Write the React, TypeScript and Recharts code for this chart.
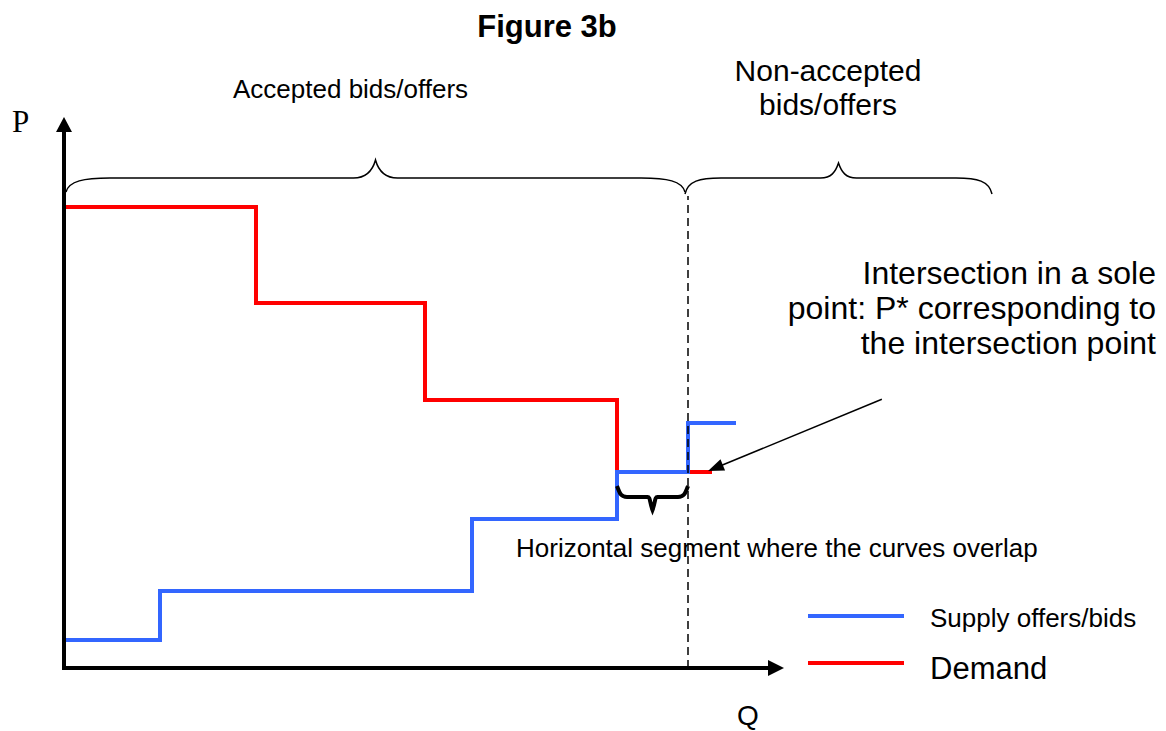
import { LineChart, Line, XAxis, YAxis, ReferenceLine, Legend } from "recharts";

// supply offers/bids (step curve)
const supplyQ = [0, 96, 408, 553, 624, 672];
const supplyP = [28, 77, 149, 196, 245, 245];
// demand bids (step curve)
const demandQ = [0, 192, 361, 553, 648];
const demandP = [461, 365, 268, 196, 196];

const qDomain = [0, 720];
const pDomain = [0, 551];

// annotation anchors, in data units
const overlapQ = [553, 624];
const acceptedQ = [2, 621];
const nonAcceptedQ = [621, 928];
const braceP = 490;
const overlapBraceP = 171;
const dashTopP = 472;
const pointerFrom = { q: 816, p: 268 };
const pointerTo = { q: 644, p: 197 };

const supplyData = supplyQ.map((q, i) => ({ q, p: supplyP[i] }));
const demandData = demandQ.map((q, i) => ({ q, p: demandP[i] }));

const FONT = "'Liberation Sans', Arial, sans-serif";
const BLUE = "#3366ff";
const RED = "#ff0000";

const legendOrder = ["Supply offers/bids", "Demand"];
const legendFont: Record<string, number> = { "Supply offers/bids": 26, Demand: 31 };

function makeArrow(width: number, headLen: number, headWidth: number) {
  return (props: any) => {
    const { x1, y1, x2, y2 } = props;
    const dx = x2 - x1;
    const dy = y2 - y1;
    const len = Math.sqrt(dx * dx + dy * dy) || 1;
    const ux = dx / len;
    const uy = dy / len;
    const bx = x2 - ux * headLen;
    const by = y2 - uy * headLen;
    const px = -uy * (headWidth / 2);
    const py = ux * (headWidth / 2);
    return (
      <g>
        <line x1={x1 - ux * 2} y1={y1 - uy * 2} x2={bx + ux} y2={by + uy} stroke="#000" strokeWidth={width} />
        <polygon points={`${x2},${y2} ${bx + px},${by + py} ${bx - px},${by - py}`} fill="#000" />
      </g>
    );
  };
}

// horizontal curly brace; dir -1 points up, +1 points down
function makeBrace(dir: number, tip: number, peak: number, curl: number, width: number) {
  return (props: any) => {
    const { x1, y1, x2 } = props;
    const yf = y1;
    const yt = yf - dir * tip;
    const yp = yf + dir * peak;
    const xm = (x1 + x2) / 2;
    const pc = curl * 0.5;
    const d = [
      `M ${x1} ${yt}`,
      `C ${x1 + 3} ${yf - dir * 3}, ${x1 + curl * 0.4} ${yf}, ${x1 + curl} ${yf}`,
      `L ${xm - pc} ${yf}`,
      `C ${xm - pc * 0.4} ${yf}, ${xm - 3} ${yf + dir * peak * 0.4}, ${xm} ${yp}`,
      `C ${xm + 3} ${yf + dir * peak * 0.4}, ${xm + pc * 0.4} ${yf}, ${xm + pc} ${yf}`,
      `L ${x2 - curl} ${yf}`,
      `C ${x2 - curl * 0.4} ${yf}, ${x2 - 3} ${yf - dir * 3}, ${x2} ${yt}`,
    ].join(" ");
    return <path d={d} fill="none" stroke="#000" strokeWidth={width} />;
  };
}

function LegendBox({ payload }: any) {
  const items = [...(payload || [])].sort(
    (a: any, b: any) => legendOrder.indexOf(a.value) - legendOrder.indexOf(b.value)
  );
  return (
    <svg width={340} height={100} style={{ display: "block" }}>
      {items.map((it: any, i: number) => {
        const cy = i === 0 ? 16 : 63;
        const base = i === 0 ? 27 : 79;
        return (
          <g key={it.value}>
            <line x1={8} y1={cy} x2={104} y2={cy} stroke={it.color} strokeWidth={4} />
            <text x={130} y={base} fontFamily={FONT} fontSize={legendFont[it.value]} fill="#000">
              {it.value}
            </text>
          </g>
        );
      })}
    </svg>
  );
}

export default function App() {
  return (
    <div style={{ position: "absolute", left: 0, top: 0, width: 1166, height: 731, background: "#fff" }}>
      <LineChart width={1166} height={731} margin={{ top: 117, right: 382, bottom: 63, left: 64 }}>
        <XAxis type="number" dataKey="q" domain={qDomain} hide allowDataOverflow />
        <YAxis type="number" dataKey="p" domain={pDomain} hide allowDataOverflow />
        <Line
          data={demandData}
          dataKey="p"
          name="Demand"
          type="stepAfter"
          stroke={RED}
          strokeWidth={4}
          dot={false}
          activeDot={false}
          isAnimationActive={false}
        />
        <Line
          data={supplyData}
          dataKey="p"
          name="Supply offers/bids"
          type="stepAfter"
          stroke={BLUE}
          strokeWidth={4}
          dot={false}
          activeDot={false}
          isAnimationActive={false}
        />
        <ReferenceLine
          segment={[{ x: overlapQ[1], y: 0 }, { x: overlapQ[1], y: dashTopP }]}
          stroke="#000"
          strokeWidth={1.5}
          strokeDasharray="8 5"
          ifOverflow="visible"
        />
        <ReferenceLine
          segment={[{ x: 0, y: 0 }, { x: 0, y: pDomain[1] }]}
          ifOverflow="visible"
          shape={makeArrow(4, 15, 16)}
        />
        <ReferenceLine
          segment={[{ x: 0, y: 0 }, { x: qDomain[1], y: 0 }]}
          ifOverflow="visible"
          shape={makeArrow(4, 16, 16)}
        />
        <ReferenceLine
          segment={[{ x: pointerFrom.q, y: pointerFrom.p }, { x: pointerTo.q, y: pointerTo.p }]}
          ifOverflow="visible"
          shape={makeArrow(1.5, 16, 12)}
        />
        <ReferenceLine
          segment={[{ x: acceptedQ[0], y: braceP }, { x: acceptedQ[1], y: braceP }]}
          ifOverflow="visible"
          shape={makeBrace(-1, 14, 18, 44, 1.5)}
        />
        <ReferenceLine
          segment={[{ x: nonAcceptedQ[0], y: braceP }, { x: nonAcceptedQ[1], y: braceP }]}
          ifOverflow="visible"
          shape={makeBrace(-1, 16, 15, 36, 1.5)}
        />
        <ReferenceLine
          segment={[{ x: overlapQ[0], y: overlapBraceP }, { x: overlapQ[1], y: overlapBraceP }]}
          ifOverflow="visible"
          shape={makeBrace(1, 11, 13, 10, 4)}
        />
        <Legend
          layout="horizontal"
          verticalAlign="middle"
          align="center"
          content={<LegendBox />}
          wrapperStyle={{ left: 800, top: 600, width: 340, height: 100 }}
        />
      </LineChart>
      <svg
        width={1166}
        height={731}
        style={{ position: "absolute", left: 0, top: 0, pointerEvents: "none" }}
        fontFamily={FONT}
      >
        <text x={547} y={37} textAnchor="middle" fontSize={31} fontWeight="bold">
          Figure 3b
        </text>
        <text x={233} y={98} fontSize={26}>
          Accepted bids/offers
        </text>
        <text x={828} y={81} textAnchor="middle" fontSize={30}>
          Non-accepted
        </text>
        <text x={828} y={115} textAnchor="middle" fontSize={30}>
          bids/offers
        </text>
        <text x={12} y={132} fontSize={31} fontFamily="'Liberation Serif', 'Times New Roman', serif">
          P
        </text>
        <text x={748} y={725} textAnchor="middle" fontSize={28}>
          Q
        </text>
        <text x={1156} y={284} textAnchor="end" fontSize={32}>
          Intersection in a sole
        </text>
        <text x={1156} y={319} textAnchor="end" fontSize={32}>
          point: P* corresponding to
        </text>
        <text x={1156} y={354} textAnchor="end" fontSize={32}>
          the intersection point
        </text>
        <text x={516} y={557} fontSize={26}>
          Horizontal segment where the curves overlap
        </text>
      </svg>
    </div>
  );
}
